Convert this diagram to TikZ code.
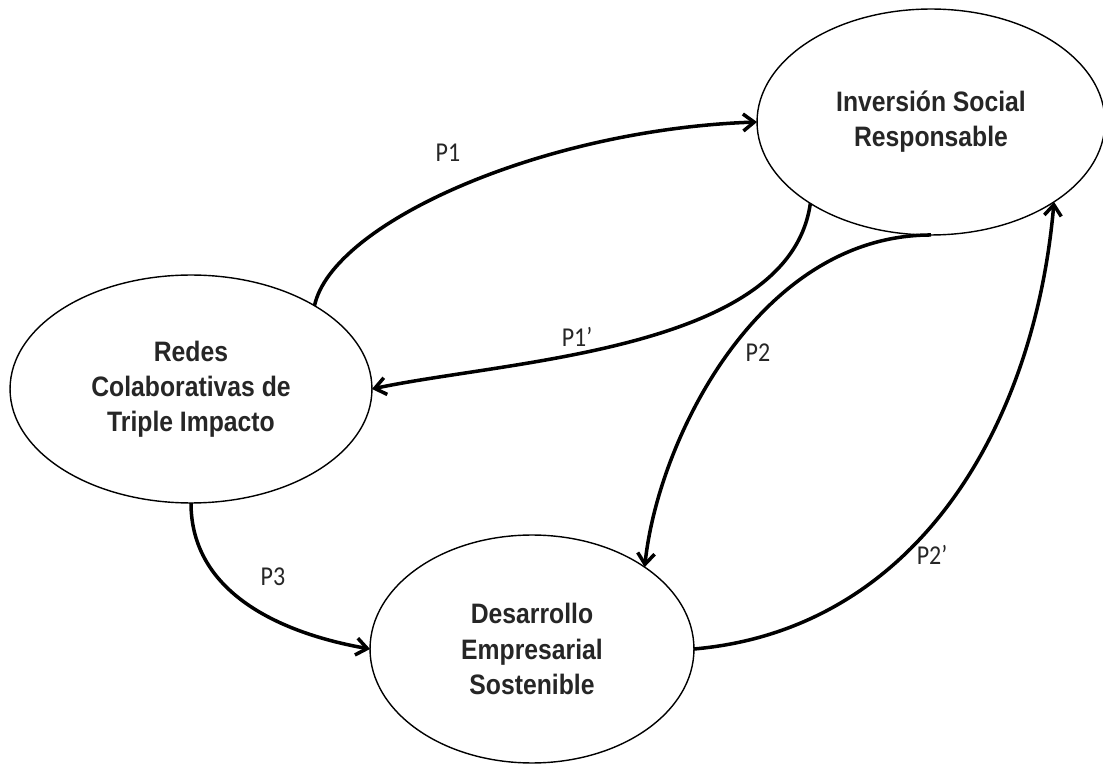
\documentclass[tikz,border=0pt]{standalone}
\usepackage{fontspec}
\newfontfamily\boxfont[FakeStretch=0.88]{Liberation Sans}
\newfontfamily\tagfont[FakeStretch=0.88]{Carlito}
\usetikzlibrary{shapes.geometric,arrows.meta}

\tikzset{
  concept/.style={ellipse,draw,line width=0.8pt,inner sep=0pt,outer sep=0pt,
    align=center,text=black!85,font=\boxfont\bfseries\fontsize{16}{20}\selectfont,
    execute at begin node=\rule{0pt}{24pt}},
  link/.style={line width=2pt,-{Straight Barb[length=2.2mm,width=3.4mm]}},
  tag/.style={text=black!85,font=\tagfont\fontsize{15.5}{17}\selectfont}
}

\begin{document}
\begin{tikzpicture}[x=0.02cm,y=0.02cm]
      \useasboundingbox (0,0) rectangle (1103,765);
      \draw
        (931,643) node[concept,minimum width=6.96cm,minimum height=4.52cm] (isr){Inversión Social\\Responsable}
        (191,376) node[concept,minimum width=7.24cm,minimum height=4.56cm] (redes){Redes\\Colaborativas de\\Triple Impacto}
        (532,116) node[concept,minimum width=6.48cm,minimum height=4.56cm] (des){Desarrollo\\Empresarial\\Sostenible};
      \draw
        (448,612) node[tag] (p1){P1}
        (577,428) node[tag] (p1b){P1’}
        (758,412) node[tag] (p2){P2}
        (932,210) node[tag] (p2b){P2’}
        (273,188) node[tag] (p3){P3};
      \begin{scope}[link]
        \draw (redes.34) to[out=78,in=182,out looseness=0.45,in looseness=1.15] (isr.west);
        \draw (isr.214) to[out=262,in=12,out looseness=0.8,in looseness=0.75] (redes.east);
        \draw (isr.south) to[out=180,in=84,out looseness=1.0,in looseness=0.75] (des.36);
        \draw (des.east) to[out=5,in=265] (isr.-33);
        \draw (redes.south) to[out=270,in=170] (des.west);
      \end{scope}
    \end{tikzpicture}
\end{document}
